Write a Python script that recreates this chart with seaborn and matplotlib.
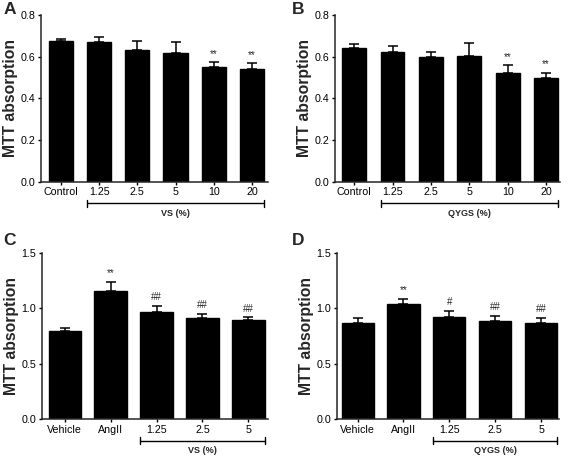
import numpy as np
import pandas as pd
import matplotlib
matplotlib.use("Agg")
import matplotlib.pyplot as plt
import seaborn as sns

# --- values ---
dose_labels = ['Control', '1.25', '2.5', '5', '10', '20']
a_mean = [0.675, 0.669, 0.632, 0.619, 0.551, 0.541]
a_err = [0.012, 0.027, 0.043, 0.053, 0.022, 0.027]
a_marks = ['', '', '', '', '**', '**']

b_mean = [0.640, 0.624, 0.600, 0.605, 0.524, 0.500]
b_err = [0.021, 0.027, 0.024, 0.060, 0.035, 0.024]
b_marks = ['', '', '', '', '**', '**']

ang_labels = ['Vehicle', 'AngII', '1.25', '2.5', '5']
c_mean = [0.794, 1.154, 0.968, 0.914, 0.893]
c_err = [0.024, 0.081, 0.051, 0.033, 0.024]
c_marks = ['', '**', '##', '##', '##']

d_mean = [0.869, 1.037, 0.923, 0.887, 0.863]
d_err = [0.039, 0.048, 0.054, 0.042, 0.051]
d_marks = ['', '**', '#', '##', '##']

sns.set_style("ticks")
plt.rcParams['font.family'] = ['Liberation Sans', 'DejaVu Sans']

fig = plt.figure(figsize=(5.67, 4.59), dpi=100)


def panel(rect, labels, mean, err, marks, ymax, yticks, width, xlim,
          group, first_in_group, letter, letter_xy):
    ax = fig.add_axes(rect)
    df = pd.DataFrame({'group': labels, 'value': mean})
    sns.barplot(data=df, x='group', y='value', color='black', width=width,
                errorbar=None, saturation=1, edgecolor='black', ax=ax)
    x = np.arange(len(labels))
    ax.errorbar(x, mean, yerr=[np.zeros(len(err)), err], fmt='none',
                ecolor='black', elinewidth=1.1, capsize=3.8, capthick=1.1)
    for xi, m, e, t in zip(x, mean, err, marks):
        if t:
            ax.annotate(t, (xi, m + e), xytext=(0, 4), textcoords='offset points',
                        ha='center', va='baseline', fontsize=7)
    ax.set_ylim(0, ymax)
    ax.set_yticks(yticks)
    ax.set_yticklabels([f'{v:.1f}' for v in yticks])
    ax.set_xlim(*xlim)
    ax.set_xlabel('')
    ax.set_ylabel('MTT absorption', fontsize=11.3, fontweight='bold')
    ax.yaxis.set_label_coords(-0.10, 0.5)
    sns.despine(ax=ax)
    for s in ['left', 'bottom']:
        ax.spines[s].set_linewidth(1.1)
    ax.tick_params(axis='both', length=2.5, width=1.0, labelsize=7.7,
                   pad=1.5, colors='black')
    # bracket under the dose groups
    half = width / 2
    trans = ax.get_xaxis_transform()
    x0, x1 = first_in_group - half, len(labels) - 1 + half
    yb = -0.13
    ax.plot([x0, x1], [yb, yb], color='black', lw=1.0, transform=trans, clip_on=False)
    for xe in (x0, x1):
        ax.plot([xe, xe], [yb - 0.02, yb + 0.02], color='black', lw=1.0,
                transform=trans, clip_on=False)
    ax.text((x0 + x1) / 2, yb - 0.035, group, transform=trans, ha='center',
            va='top', fontsize=6.5, fontweight='bold')
    fig.text(letter_xy[0], letter_xy[1], letter, fontsize=12.5, fontweight='bold',
             ha='left', va='top')
    return ax


panel([0.0723, 0.6041, 0.4004, 0.3632], dose_labels, a_mean, a_err, a_marks,
      0.8, [0.0, 0.2, 0.4, 0.6, 0.8], 0.63, (-0.52, 5.42), 'VS (%)', 1,
      'A', (0.006, 0.995))
panel([0.5908, 0.6041, 0.3968, 0.3632], dose_labels, b_mean, b_err, b_marks,
      0.8, [0.0, 0.2, 0.4, 0.6, 0.8], 0.62, (-0.5, 5.36), 'QYGS (%)', 1,
      'B', (0.515, 0.995))
panel([0.0732, 0.0871, 0.3995, 0.3623], ang_labels, c_mean, c_err, c_marks,
      1.5, [0.0, 0.5, 1.0, 1.5], 0.71, (-0.51, 4.43), 'VS (%)', 2,
      'C', (0.006, 0.492))
panel([0.5935, 0.0871, 0.3924, 0.3623], ang_labels, d_mean, d_err, d_marks,
      1.5, [0.0, 0.5, 1.0, 1.5], 0.70, (-0.46, 4.39), 'QYGS (%)', 2,
      'D', (0.515, 0.492))

fig.savefig('out.png', dpi=100)
